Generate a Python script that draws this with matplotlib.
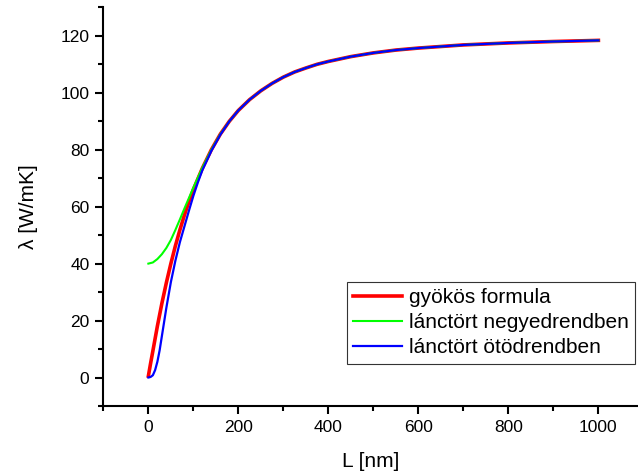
import matplotlib
matplotlib.use("Agg")
from matplotlib import pyplot as plt
from matplotlib.ticker import MultipleLocator

plt.rcParams['font.family'] = ['Liberation Sans', 'DejaVu Sans']

L_red = [0, 5, 10, 20, 30, 40, 50, 60, 70, 80, 90, 100, 120, 140, 160, 180, 200, 225,
         250, 275, 300, 325, 350, 375, 400, 450, 500, 550, 600, 700, 800, 900, 1000]
lam_red = [0.5, 5, 9.3, 18, 26, 33.3, 40, 46.2, 51.8, 57, 61.7, 66, 73.5, 80, 85.5, 90, 93.8, 97.6,
           100.7, 103.3, 105.5, 107.3, 108.7, 110, 111, 112.7, 114, 115, 115.7, 116.8, 117.5, 118, 118.4]

L_green = [0, 10, 20, 30, 40, 50, 60, 70, 80, 90, 100, 110, 120, 140, 160, 180, 200, 225,
           250, 275, 300, 325, 350, 375, 400, 450, 500, 550, 600, 700, 800, 900, 1000]
lam_green = [40, 40.4, 41.6, 43.3, 45.5, 48.3, 51.8, 55.5, 59.3, 63, 66.7, 70.2, 73.7, 80, 85.5, 90, 93.8, 97.6,
             100.7, 103.3, 105.5, 107.3, 108.7, 110, 111, 112.7, 114, 115, 115.7, 116.8, 117.5, 118, 118.4]

L_blue = [0, 5, 10, 15, 20, 25, 30, 35, 40, 50, 60, 70, 80, 90, 100, 110, 120, 140, 160, 180, 200, 225,
          250, 275, 300, 325, 350, 375, 400, 450, 500, 550, 600, 700, 800, 900, 1000]
lam_blue = [0, 0.2, 0.8, 2.6, 5.5, 9.5, 14.5, 19.5, 24.5, 33.5, 41, 47.5, 53, 58.5, 63.8, 68.5, 72.8,
            79.6, 85.3, 90, 93.8, 97.6, 100.7, 103.3, 105.5, 107.3, 108.7, 110, 111, 112.7, 114, 115,
            115.7, 116.8, 117.5, 118, 118.4]

labels = ["gyökös formula", "lánctört negyedrendben", "lánctört ötödrendben"]

fig = plt.figure(figsize=(6.38, 4.74), dpi=100)
ax = fig.add_axes([0.162, 0.1435, 0.838, 0.841])

ax.plot(L_red, lam_red, color="#ff0000", lw=2.6, label=labels[0])
ax.plot(L_green, lam_green, color="#00ff00", lw=1.5, label=labels[1])
ax.plot(L_blue, lam_blue, color="#0000ff", lw=1.6, label=labels[2])

ax.set_xlim(-100, 1088)
ax.set_ylim(-10, 130)
ax.xaxis.set_major_locator(MultipleLocator(200))
ax.xaxis.set_minor_locator(MultipleLocator(100))
ax.yaxis.set_major_locator(MultipleLocator(20))
ax.yaxis.set_minor_locator(MultipleLocator(10))

ax.spines["top"].set_visible(False)
ax.spines["right"].set_visible(False)
ax.spines["left"].set_linewidth(1.5)
ax.spines["bottom"].set_linewidth(1.5)
ax.tick_params(which="major", direction="out", length=6, width=1.5, labelsize=12.5, pad=4)
ax.tick_params(which="minor", direction="out", length=3.5, width=1.5)

ax.set_xlabel("L [nm]", fontsize=15, labelpad=12)
ax.set_ylabel("λ [W/mK]", fontsize=15, labelpad=16)

leg = ax.legend(loc="upper left", bbox_to_anchor=(0.456, 0.312), borderaxespad=0,
                fontsize=15, handlelength=2.35, handletextpad=0.3, labelspacing=0.3,
                borderpad=0.3, fancybox=False, framealpha=1, edgecolor="#333333")
leg.get_frame().set_linewidth(0.8)

plt.savefig("out.png", dpi=100)
